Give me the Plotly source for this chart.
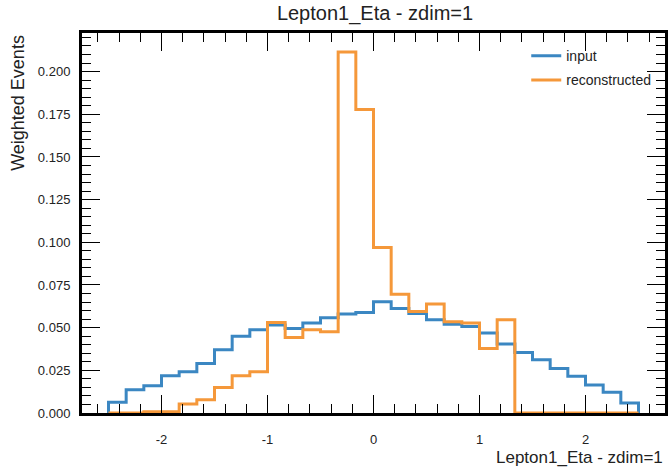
import plotly.graph_objects as go

# ---- data ----
bin_edges = [-2.5 + i / 6 for i in range(31)]
input_vals = [0.0063, 0.0136, 0.0160, 0.0218, 0.0242, 0.0290, 0.0370, 0.0450,
              0.0487, 0.0515, 0.0495, 0.0527, 0.0558, 0.0580, 0.0589, 0.0651,
              0.0612, 0.0583, 0.0546, 0.0520, 0.0507, 0.0468, 0.0404, 0.0355,
              0.0312, 0.0261, 0.0215, 0.0164, 0.0121, 0.0058]
recon_vals = [0.0, 0.0, 0.0007, 0.0007, 0.0053, 0.0078, 0.0150, 0.0218,
              0.0242, 0.0530, 0.0443, 0.0487, 0.0476, 0.2115, 0.1778, 0.0969,
              0.0696, 0.0595, 0.0638, 0.0534, 0.0527, 0.0378, 0.0546, 0.0,
              0.0, 0.0, 0.0, 0.0, 0.0, 0.0]
series_names = ["input", "reconstructed"]
series_colors = ["#3b87c2", "#f5983a"]
x_tick_vals = [-2, -1, 0, 1, 2]
x_tick_text = ["-2", "-1", "0", "1", "2"]
title_text = "Lepton1_Eta - zdim=1"
x_title = "Lepton1_Eta - zdim=1"
y_title = "Weighted Events"

FONT = "Liberation Sans, Arial, sans-serif"


def step_xy(edges, vals):
    xs = [edges[0]] + list(edges) + [edges[-1]]
    ys = [0.0] + list(vals) + [vals[-1], 0.0]
    return xs, ys


fig = go.Figure()
for i, (name, vals) in enumerate(zip(series_names, [input_vals, recon_vals])):
    xs, ys = step_xy(bin_edges, vals)
    fig.add_trace(go.Scatter(
        x=xs, y=ys, mode="lines", name=name, legendgroup=name,
        line=dict(color=series_colors[i], width=3, shape="hv"),
    ))

axis_common = dict(
    showline=True, linecolor="black", linewidth=3, mirror="ticks",
    ticks="inside", tickcolor="black", tickwidth=1.2, ticklen=18,
    showgrid=False, zeroline=False,
    tickfont=dict(family=FONT, size=13, color="#222"),
)

fig.update_xaxes(
    range=[-2.75, 2.75], tickvals=x_tick_vals, ticktext=x_tick_text,
    minor=dict(ticks="inside", dtick=0.2, tick0=0, ticklen=9, tickwidth=1.2,
               tickcolor="black", showgrid=False),
    ticklabelstandoff=12,
    **axis_common,
)
fig.update_yaxes(
    range=[0, 0.2226], dtick=0.025, tick0=0, tickformat=".3f",
    minor=dict(ticks="inside", dtick=0.005, tick0=0, ticklen=9, tickwidth=1.2,
               tickcolor="black", showgrid=False),
    ticklabelstandoff=6,
    **axis_common,
)

fig.update_layout(
    width=671, height=469,
    margin=dict(l=82, r=3, t=33, b=56),
    paper_bgcolor="white", plot_bgcolor="white",
    font=dict(family=FONT, color="#222"),
    title=dict(text=title_text, x=(82 + 668) / 2 / 671, xanchor="center",
               y=1 - 13 / 469, yanchor="middle",
               font=dict(family=FONT, size=20, color="#222")),
    showlegend=True,
    legend=dict(x=0.762, y=0.981, xanchor="left", yanchor="top",
                bgcolor="rgba(0,0,0,0)", borderwidth=0,
                font=dict(family=FONT, size=14, color="#222"),
                tracegroupgap=3, itemwidth=30),
    annotations=[
        dict(text=y_title, xref="paper", yref="paper", x=-0.11, y=1.0,
             xanchor="center", yanchor="top", textangle=-90, showarrow=False,
             font=dict(family=FONT, size=18, color="#222")),
        dict(text=x_title, xref="paper", yref="paper", x=1.0, y=-0.1158,
             xanchor="right", yanchor="middle", showarrow=False,
             font=dict(family=FONT, size=17, color="#222")),
    ],
)

fig.write_html("out.html")
